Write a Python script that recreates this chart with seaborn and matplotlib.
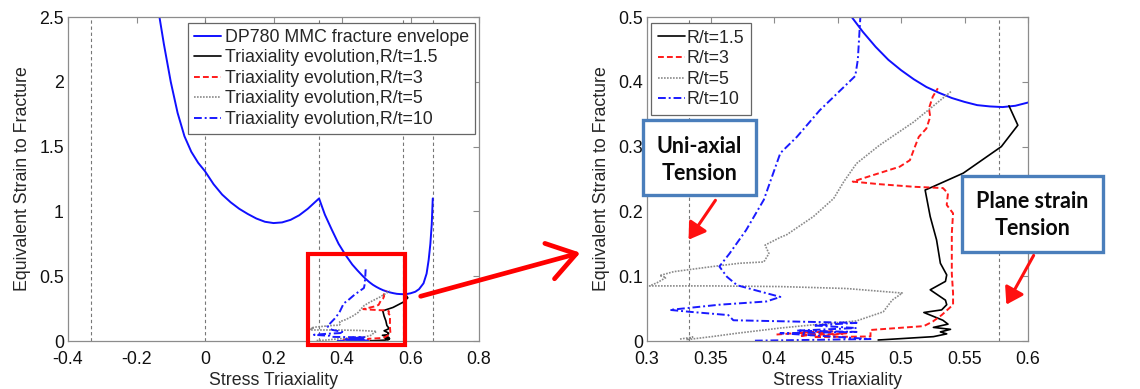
import numpy as np
import pandas as pd
import matplotlib
matplotlib.use("Agg")
import matplotlib.pyplot as plt
from matplotlib.patches import Rectangle, FancyArrowPatch
import seaborn as sns

# ---------------- data ----------------
env_eta = [-0.133, -0.12, -0.10, -0.08, -0.06, -0.04, -0.02, 0.0, 0.025, 0.05, 0.075,
           0.10, 0.125, 0.15, 0.175, 0.20, 0.225, 0.25, 0.275, 0.30, 0.333,
           0.35, 0.37, 0.39, 0.41, 0.43, 0.445, 0.455, 0.46, 0.47, 0.48, 0.49, 0.50,
           0.51, 0.52, 0.53, 0.54, 0.55, 0.56, 0.57, 0.58, 0.59,
           0.60, 0.614, 0.625, 0.638, 0.647, 0.653, 0.658, 0.662, 0.665]
env_eps = [2.50, 2.29, 2.00, 1.76, 1.58, 1.46, 1.375, 1.31, 1.21, 1.13, 1.07,
           1.02, 0.98, 0.945, 0.92, 0.91, 0.915, 0.935, 0.97, 1.02, 1.10,
           0.975, 0.86, 0.75, 0.665, 0.59, 0.545, 0.517, 0.503, 0.477, 0.454, 0.434, 0.418,
           0.404, 0.392, 0.383, 0.375, 0.369, 0.364, 0.362, 0.361, 0.363,
           0.368, 0.38, 0.40, 0.445, 0.52, 0.625, 0.75, 0.90, 1.10]

r15_eta = [0.482, 0.5255, 0.536, 0.531, 0.539, 0.5255, 0.537, 0.533, 0.518, 0.532, 0.536,
           0.535, 0.523, 0.535, 0.536, 0.531, 0.528, 0.523, 0.519, 0.525, 0.549, 0.579,
           0.592, 0.585]
r15_eps = [0.0015, 0.0067, 0.011, 0.014, 0.018, 0.021, 0.026, 0.032, 0.044, 0.048, 0.056,
           0.063, 0.079, 0.092, 0.102, 0.120, 0.156, 0.192, 0.233, 0.238, 0.259, 0.300,
           0.333, 0.363]

r3_eta = [0.402, 0.431, 0.415, 0.447, 0.420, 0.457, 0.431, 0.476, 0.476, 0.497, 0.518,
          0.525, 0.532, 0.541, 0.541, 0.540, 0.540, 0.541, 0.536, 0.537, 0.533, 0.510,
          0.483, 0.462, 0.478, 0.499, 0.507, 0.511, 0.514, 0.520, 0.523, 0.522, 0.525, 0.529]
r3_eps = [0.010, 0.014, 0.012, 0.015, 0.008, 0.012, 0.006, 0.007, 0.017, 0.020, 0.023,
          0.030, 0.040, 0.056, 0.074, 0.104, 0.166, 0.197, 0.210, 0.228, 0.236, 0.238,
          0.242, 0.246, 0.256, 0.269, 0.279, 0.300, 0.315, 0.328, 0.346, 0.359, 0.377, 0.390]

r5_eta = [0.326, 0.336, 0.331, 0.352, 0.371, 0.405, 0.431, 0.465, 0.486, 0.493, 0.501,
          0.457, 0.405, 0.352, 0.302, 0.308, 0.315, 0.310, 0.321, 0.352, 0.373, 0.392,
          0.396, 0.393, 0.405, 0.410, 0.431, 0.447, 0.455, 0.465, 0.483, 0.510, 0.525, 0.540]
r5_eps = [0.003, 0.006, 0.002, 0.007, 0.012, 0.020, 0.025, 0.031, 0.045, 0.063, 0.074,
          0.081, 0.084, 0.085, 0.085, 0.090, 0.098, 0.101, 0.107, 0.115, 0.120, 0.122,
          0.135, 0.148, 0.160, 0.164, 0.192, 0.220, 0.246, 0.274, 0.302, 0.338, 0.362, 0.386]

r10_eta = [0.385, 0.476, 0.405, 0.465, 0.418, 0.465, 0.431, 0.465, 0.368, 0.364, 0.334,
           0.318, 0.357, 0.394, 0.405, 0.386, 0.371, 0.363, 0.357, 0.365, 0.378, 0.392,
           0.405, 0.418, 0.436, 0.464, 0.466, 0.468, 0.469]
r10_eps = [0.0005, 0.003, 0.012, 0.014, 0.016, 0.020, 0.024, 0.028, 0.032, 0.040, 0.045,
           0.048, 0.056, 0.061, 0.068, 0.078, 0.086, 0.099, 0.115, 0.135, 0.171, 0.218,
           0.290, 0.315, 0.356, 0.409, 0.434, 0.500, 0.553]

ref_eta = [-1/3, 0.0, 1/3, 0.577, 2/3]
ref_eta_zoom = [1/3, 0.577]

left_xticks = [-0.4, -0.2, 0, 0.2, 0.4, 0.6, 0.8]
left_xlabels = ["-0.4", "-0.2", "0", "0.2", "0.4", "0.6", "0.8"]
left_yticks = [0, 0.5, 1, 1.5, 2, 2.5]
left_ylabels = ["0", "0.5", "1", "1.5", "2", "2.5"]
right_xticks = [0.3, 0.35, 0.4, 0.45, 0.5, 0.55, 0.6]
right_xlabels = ["0.3", "0.35", "0.4", "0.45", "0.5", "0.55", "0.6"]
right_yticks = [0, 0.1, 0.2, 0.3, 0.4, 0.5]
right_ylabels = ["0", "0.1", "0.2", "0.3", "0.4", "0.5"]

left_labels = ["DP780 MMC fracture envelope", "Triaxiality evolution,R/t=1.5",
               "Triaxiality evolution,R/t=3", "Triaxiality evolution,R/t=5",
               "Triaxiality evolution,R/t=10"]
right_labels = ["R/t=1.5", "R/t=3", "R/t=5", "R/t=10"]

# ---------------- style ----------------
FS = 12.8
sns.set_style("white")
plt.rcParams["font.family"] = ["Liberation Sans", "DejaVu Sans"]
plt.rcParams["font.size"] = FS

fig = plt.figure(figsize=(11.4, 3.89), dpi=100)
H = 389.0
W = 1140.0
ax1 = fig.add_axes([68 / W, 1 - 341 / H, (479 - 68) / W, (341 - 17) / H])
ax2 = fig.add_axes([647 / W, 1 - 341 / H, (1028 - 647) / W, (341 - 17) / H])

styles = [
    dict(color="#1010ff", linestyle="-", lw=1.4),
    dict(color="black", linestyle="-", lw=1.2),
    dict(color="#ff1a1a", linestyle=(0, (3, 1.6)), lw=1.4),
    dict(color="#8a8a8a", linestyle=(0, (1, 0.8)), lw=1.2),
    dict(color="#1a1aff", linestyle=(0, (4, 1.5, 1, 1.5)), lw=1.4),
]
series = [(r15_eta, r15_eps), (r3_eta, r3_eps), (r5_eta, r5_eps), (r10_eta, r10_eps)]


def trace(ax, x, y, st):
    df = pd.DataFrame({"x": x, "y": y})
    n = len(ax.lines)
    sns.lineplot(data=df, x="x", y="y", sort=False, estimator=None, ax=ax, **st)
    return ax.lines[n]


def frame(ax):
    for s in ax.spines.values():
        s.set_color("#8c8c8c")
        s.set_linewidth(0.9)
    ax.tick_params(direction="in", top=True, right=True, length=4, width=0.8,
                   color="#8c8c8c", labelcolor="#111111", labelsize=FS)
    ax.tick_params(axis="x", pad=7)
    ax.tick_params(axis="y", pad=3)
    ax.set_xlabel("Stress Triaxiality", fontsize=FS, labelpad=3)
    ax.set_ylabel("Equivalent Strain to Fracture", fontsize=FS, labelpad=6)


# ---------- left panel ----------
for r in ref_eta:
    ax1.axvline(r, color="#777777", lw=0.8, ls=(0, (3, 2.5)), zorder=1)
handles1 = [trace(ax1, env_eta, env_eps, styles[0])]
for (x, y), st in zip(series, styles[1:]):
    handles1.append(trace(ax1, x, y, st))
ax1.set_xlim(-0.4, 0.8)
ax1.set_ylim(0, 2.5)
ax1.set_xticks(left_xticks, left_xlabels)
ax1.set_yticks(left_yticks, left_ylabels)
frame(ax1)
leg1 = ax1.legend(handles1, left_labels, loc="upper right", bbox_to_anchor=(0.99, 0.983),
                  borderaxespad=0, frameon=True, fancybox=False, edgecolor="#666666",
                  framealpha=1, fontsize=FS, handlelength=1.5, handletextpad=0.2,
                  labelspacing=0.2, borderpad=0.35)
leg1.get_frame().set_linewidth(0.9)

ax1.add_patch(Rectangle((0.302, -0.029), 0.584 - 0.302, 0.674 + 0.029, fill=False,
                        edgecolor="#ff0000", lw=3.0, clip_on=False, zorder=6))

# ---------- right panel ----------
for r in ref_eta_zoom:
    ax2.axvline(r, color="#777777", lw=0.8, ls=(0, (3, 2.5)), zorder=1)
trace(ax2, env_eta, env_eps, styles[0])
handles2 = []
for (x, y), st in zip(series, styles[1:]):
    handles2.append(trace(ax2, x, y, st))
ax2.set_xlim(0.3, 0.6)
ax2.set_ylim(0, 0.5)
ax2.set_xticks(right_xticks, right_xlabels)
ax2.set_yticks(right_yticks, right_ylabels)
frame(ax2)
leg2 = ax2.legend(handles2, right_labels, loc="upper left", bbox_to_anchor=(0.01, 0.983),
                  borderaxespad=0, frameon=True, fancybox=False, edgecolor="#666666",
                  framealpha=1, fontsize=FS, handlelength=1.5, handletextpad=0.1,
                  labelspacing=0.2, borderpad=0.4)
leg2.get_frame().set_linewidth(0.9)

# ---------- annotations (figure pixel positions) ----------
def px(x, y):
    return (x / W, 1 - y / H)

arrow_big = FancyArrowPatch(px(418, 297), px(583, 252), transform=fig.transFigure,
                            arrowstyle="->,head_length=0.9,head_width=0.6",
                            mutation_scale=22, color="#ff0000", lw=3.4, zorder=10)
fig.patches.append(arrow_big)

for (x0, y0, x1, y1), txt, (tx, ty) in [
        ((643, 120, 756, 195), "Uni-axial\nTension", (699.5, 160)),
        ((962, 176, 1103, 252), "Plane strain\nTension", (1032.5, 215))]:
    fig.patches.append(Rectangle(px(x0, y1), (x1 - x0) / W, (y1 - y0) / H,
                                 transform=fig.transFigure, facecolor="white",
                                 edgecolor="#4a7ebb", lw=2.4, zorder=9))
    fig.text(*px(tx, ty), txt, ha="center", va="center", fontsize=15.5,
             fontweight="bold", family=["Lato", "DejaVu Sans"], linespacing=1.4,
             color="#0a0a0a", zorder=11)

for s, e in [((717, 198), (687, 242)), ((1035, 253), (1005, 307))]:
    fig.patches.append(FancyArrowPatch(px(*s), px(*e), transform=fig.transFigure,
                                       arrowstyle="-|>,head_length=0.7,head_width=0.45",
                                       mutation_scale=14, color="#ff1010", lw=2.2,
                                       zorder=10))

fig.savefig("out.png", dpi=100)
